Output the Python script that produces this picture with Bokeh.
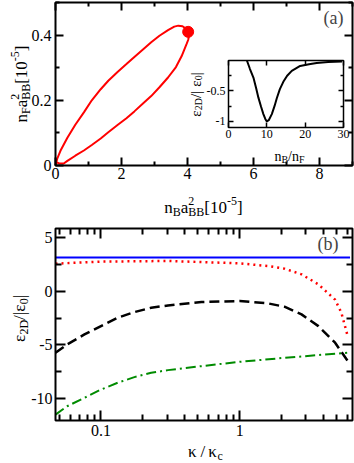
from math import pi, log10
from bokeh.plotting import figure
from bokeh.models import (Range1d, LinearAxis, LogAxis, LogScale, FixedTicker, Label,
                          CustomJSTickFormatter)
from bokeh.embed import file_html
from bokeh.resources import INLINE

FONT = "Liberation Serif"

# ---------------- data ----------------
# panel (a): closed loop  n_B a_BB^2 vs n_F a_BB^2  [10^-5]
loop_nb = [0.0, 0.05, 0.15, 0.36, 0.6, 0.86, 1.1, 1.37, 1.6, 1.88, 2.15, 2.39, 2.65,
           2.9, 3.15, 3.41, 3.6, 3.72, 3.85, 3.95, 4.02,
           4.04, 4.02, 3.97, 3.9, 3.82, 3.65, 3.41, 3.15, 2.9, 2.65, 2.39, 2.15, 1.88,
           1.6, 1.37, 1.1, 0.86, 0.6, 0.36, 0.25, 0.12, 0.0]
loop_nf = [0.0, 0.02, 0.045, 0.085, 0.125, 0.163, 0.2, 0.234, 0.26, 0.287, 0.311, 0.333,
           0.356, 0.378, 0.398, 0.415, 0.426, 0.429, 0.427, 0.42, 0.41,
           0.395, 0.385, 0.372, 0.355, 0.335, 0.302, 0.27, 0.24, 0.213, 0.19, 0.166,
           0.145, 0.124, 0.102, 0.083, 0.063, 0.046, 0.03, 0.014, 0.006, 0.006, 0.012]
dot_nb = [4.02]
dot_nf = [0.41]

# inset: eps_2D/|eps_0| vs n_B/n_F
inset_ratio = [4.8, 5.6, 6.5, 7.2, 7.8, 8.5, 9.1, 9.6, 10.0, 10.5, 11.3, 12.0, 12.6,
               13.4, 14.3, 15.3, 16.5, 18.7, 21.0, 23.0, 26.0, 29.6]
inset_eps = [0.0, -0.14, -0.28, -0.45, -0.61, -0.76, -0.88, -0.96, -1.0, -0.98, -0.88,
             -0.75, -0.62, -0.47, -0.35, -0.25, -0.17, -0.09, -0.06, -0.04, -0.025, -0.015]

# panel (b): eps_2D/|eps_0| vs kappa/kappa_c
k_solid = [0.047, 6.24]
e_solid = [3.1, 3.1]
k_dot = [0.047, 0.1, 0.304, 1.0, 1.6, 2.1, 2.79, 3.69, 4.87, 5.4, 5.95]
e_dot = [2.54, 2.73, 2.79, 2.57, 2.32, 2.08, 1.55, 0.62, -0.8, -2.0, -4.0]
k_dash = [0.047, 0.057, 0.076, 0.1, 0.132, 0.174, 0.23, 0.304, 0.53, 1.0, 1.6, 2.1,
          2.79, 3.69, 4.87, 6.24]
e_dash = [-5.72, -4.95, -4.02, -3.25, -2.47, -1.95, -1.55, -1.33, -1.02, -0.93, -1.14,
          -1.45, -2.16, -3.25, -4.79, -6.8]
k_dd = [0.047, 0.057, 0.076, 0.1, 0.132, 0.174, 0.23, 0.304, 0.53, 1.0, 2.1, 5.95]
e_dd = [-11.45, -10.68, -9.9, -9.13, -8.5, -7.98, -7.58, -7.33, -6.96, -6.56, -6.19, -5.72]

# axis limits
a_x = [0, 9]
a_y = [0, 0.5]
i_x = [0, 30]
i_y = [-1.1, 0]
b_x = [0.047, 6.5]
b_y = [-12, 5.8]

# ticks
top_x_major = [0, 2, 4, 6, 8]
top_x_minor = [1, 3, 5, 7, 9]
top_y_major = [0, 0.2, 0.4]
top_y_minor = [0.1, 0.3, 0.5]
inset_x_major = [0, 10, 20, 30]
inset_x_minor = []
inset_y_major = [-1, -0.5]
inset_y_minor = [-0.75, -0.25]
bot_x_major = [0.1, 1]
bot_x_minor = [0.05, 0.06, 0.07, 0.08, 0.09, 0.2, 0.3, 0.4, 0.5, 0.6, 0.7, 0.8, 0.9,
               2, 3, 4, 5, 6]
bot_y_major = [-10, -5, 0, 5]
bot_y_minor = [-7.5, -2.5, 2.5]

# ---------------- canvas: one figure whose frame is the whole page ----------------
W, H = 354, 463
p = figure(x_range=Range1d(0, W), y_range=Range1d(0, H), width=W, height=H,
           min_border=0, x_axis_location=None, y_axis_location=None,
           output_backend="svg", toolbar_location=None)
p.grid.visible = False
p.outline_line_color = None
p.background_fill_color = "white"
p.border_fill_color = "white"


def lin_range(v0, v1, p0, p1, total):
    s = (v1 - v0) / (p1 - p0)
    start = v0 - p0 * s
    return Range1d(start, start + total * s)


def log_range(v0, v1, p0, p1, total):
    r = lin_range(log10(v0), log10(v1), p0, p1, total)
    return Range1d(10 ** r.start, 10 ** r.end)


# panel boxes in page pixels: (left, right, top, bottom)
BOX_A = (55, 352, 2, 165)
BOX_I = (228, 343, 60, 127)
BOX_B = (55, 352, 228, 420)

p.extra_x_ranges = {
    "ax": lin_range(a_x[0], a_x[1], BOX_A[0], BOX_A[1], W),
    "ix": lin_range(i_x[0], i_x[1], BOX_I[0], BOX_I[1], W),
    "bx": log_range(b_x[0], b_x[1], BOX_B[0], BOX_B[1], W),
}
p.extra_y_ranges = {
    "ay": lin_range(a_y[0], a_y[1], H - BOX_A[3], H - BOX_A[2], H),
    "iy": lin_range(i_y[0], i_y[1], H - BOX_I[3], H - BOX_I[2], H),
    "by": lin_range(b_y[0], b_y[1], H - BOX_B[3], H - BOX_B[2], H),
}
p.extra_x_scales = {"bx": LogScale()}


def add_axis(side, xr, yr, loc, major, minor, tmaj, tmin, lw, fsize, show=True,
             standoff=3, log=False):
    cls = LogAxis if log else LinearAxis
    ax = cls(x_range_name=xr, y_range_name=yr, fixed_location=loc)
    ax.ticker = FixedTicker(ticks=major, minor_ticks=minor)
    ax.axis_line_color = None
    ax.major_tick_in = tmaj
    ax.major_tick_out = 0
    ax.minor_tick_in = tmin
    ax.minor_tick_out = 0
    ax.major_tick_line_width = lw
    ax.minor_tick_line_width = lw
    ax.major_tick_line_color = "black"
    ax.minor_tick_line_color = "black"
    ax.major_label_text_font = FONT
    ax.axis_label = None
    if show:
        ax.formatter = CustomJSTickFormatter(code="return String(tick);")
        ax.major_label_text_color = "black"
        ax.major_label_text_font_size = fsize
        ax.major_label_standoff = standoff
    else:
        ax.formatter = CustomJSTickFormatter(code="return '';")
        ax.major_label_text_color = None
        ax.major_label_text_font_size = "1px"
        ax.major_label_standoff = 0
    p.add_layout(ax, side)


# ---------------- panel (a) ----------------
p.line(loop_nb, loop_nf, x_range_name="ax", y_range_name="ay",
       line_color="#ff0000", line_width=2)
p.scatter(dot_nb, dot_nf, x_range_name="ax", y_range_name="ay", size=11,
          fill_color="#ff0000", line_color="#ff0000")
p.quad(left=a_x[0], right=a_x[1], bottom=a_y[0], top=a_y[1], x_range_name="ax",
       y_range_name="ay", fill_color=None, line_color="black", line_width=2)
add_axis("below", "ax", "ay", a_y[0], top_x_major, top_x_minor, 8, 4, 2, "16px", standoff=2)
add_axis("above", "ax", "ay", a_y[1], top_x_major, top_x_minor, 8, 4, 2, "16px", show=False)
add_axis("left", "ax", "ay", a_x[0], top_y_major, top_y_minor, 8, 4, 2, "16px", standoff=4)
add_axis("right", "ax", "ay", a_x[1], top_y_major, top_y_minor, 8, 4, 2, "16px", show=False)

# ---------------- inset ----------------
p.quad(left=i_x[0], right=i_x[1], bottom=i_y[0], top=i_y[1], x_range_name="ix",
       y_range_name="iy", fill_color="white", line_color="black", line_width=1.5)
p.line(inset_ratio, inset_eps, x_range_name="ix", y_range_name="iy",
       line_color="black", line_width=2)
add_axis("below", "ix", "iy", i_y[0], inset_x_major, inset_x_minor, 5, 3, 1.5, "12px", standoff=2)
add_axis("above", "ix", "iy", i_y[1], inset_x_major, inset_x_minor, 5, 3, 1.5, "12px", show=False)
add_axis("left", "ix", "iy", i_x[0], inset_y_major, inset_y_minor, 5, 3, 1.5, "12px", standoff=3)
add_axis("right", "ix", "iy", i_x[1], inset_y_major, inset_y_minor, 5, 3, 1.5, "12px", show=False)

# ---------------- panel (b) ----------------
p.line(k_solid, e_solid, x_range_name="bx", y_range_name="by",
       line_color="#0000ff", line_width=2)
p.line(k_dot, e_dot, x_range_name="bx", y_range_name="by",
       line_color="#ff0000", line_width=2.5, line_dash="2 4")
p.line(k_dash, e_dash, x_range_name="bx", y_range_name="by",
       line_color="black", line_width=2.5, line_dash="10 5")
p.line(k_dd, e_dd, x_range_name="bx", y_range_name="by",
       line_color="#008b00", line_width=2, line_dash="10 4 2 4")
p.quad(left=b_x[0], right=b_x[1], bottom=b_y[0], top=b_y[1], x_range_name="bx",
       y_range_name="by", fill_color=None, line_color="black", line_width=2)
add_axis("below", "bx", "by", b_y[0], bot_x_major, bot_x_minor, 10, 6, 2, "16px",
         standoff=4, log=True)
add_axis("above", "bx", "by", b_y[1], bot_x_major, bot_x_minor, 10, 6, 2, "16px",
         show=False, log=True)
add_axis("left", "bx", "by", b_x[0], bot_y_major, bot_y_minor, 10, 6, 2, "16px", standoff=3)
add_axis("right", "bx", "by", b_x[1], bot_y_major, bot_y_minor, 10, 6, 2, "16px", show=False)

# ---------------- texts ----------------
EM = {' ': .25, '(': .333, ')': .333, '-': .333, '.': .25, '/': .278, '[': .333,
      ']': .333, '|': .2, 'a': .444, 'b': .5, 'c': .444, 'n': .5, 'B': .667,
      'D': .722, 'F': .556, 'ε': .44, 'κ': .55}


def text_width(s, size):
    return sum(EM.get(ch, 0.5) for ch in s) * size


def seg_width(seg):
    t, s, sh, adv = seg
    if not adv:
        return 0.0
    return s if t is None else text_width(t, s)   # t None: blank gap of s px


def composite(segs, bx, by, rotated=False):
    """bx, by: baseline centre in page pixels measured from the top-left."""
    total = sum(seg_width(sg) for sg in segs)
    pos = -total / 2.0
    yup = H - by
    for sg in segs:
        t, s, sh, adv = sg
        if t is not None:
            if rotated:
                x, y, ang = bx - sh, yup + pos, pi / 2
            else:
                x, y, ang = bx + pos, yup + sh, 0.0
            p.add_layout(Label(x=x, y=y, text=t, angle=ang, text_font=FONT,
                               text_font_size=f"{s}px", text_align="left",
                               text_baseline="alphabetic", text_color="black"))
        pos += seg_width(sg)


composite([("n", 17, 0, True), ("F", 12, -4, True), ("a", 17, 0, True),
           ("2", 12, 7, False), ("BB", 12, -4, True), ("[10", 17, 0, True),
           ("-5", 12, 7, True), ("]", 17, 0, True)], 21, 83.5, rotated=True)
composite([("n", 17, 0, True), ("B", 12, -4, True), ("a", 17, 0, True),
           ("2", 12, 7, False), ("BB", 12, -4, True), ("[10", 17, 0, True),
           ("-5", 12, 7, True), ("]", 17, 0, True)], 203, 207)
composite([("ε", 15, 0, True), ("2D", 10, -3, True), ("/|", 15, 0, True),
           (None, 4, 0, True), ("ε", 15, 0, True), ("0", 10, -3, True),
           ("|", 15, 0, True)], 195, 94, rotated=True)
composite([("n", 14, 0, True), ("B", 10, -3, True), ("/", 14, 0, True),
           ("n", 14, 0, True), ("F", 10, -3, True)], 289, 156)
composite([("ε", 17, 0, True), ("2D", 12, -4, True), ("/|", 17, 0, True),
           ("ε", 17, 0, True), ("0", 12, -4, True), ("|", 17, 0, True)],
          19, 318, rotated=True)
composite([("κ", 17, 0, True), (None, 3, 0, True), ("/", 17, 0, True),
           (None, 3, 0, True), ("κ", 17, 0, True), ("c", 12, -4, True)], 205, 451)

p.add_layout(Label(x=343, y=H - 7, text="(a)", text_font=FONT, text_font_size="18px",
                   text_align="right", text_baseline="top"))
p.add_layout(Label(x=338, y=H - 233, text="(b)", text_font=FONT, text_font_size="18px",
                   text_align="right", text_baseline="top"))

open("out.html", "w").write(file_html(p, INLINE))
